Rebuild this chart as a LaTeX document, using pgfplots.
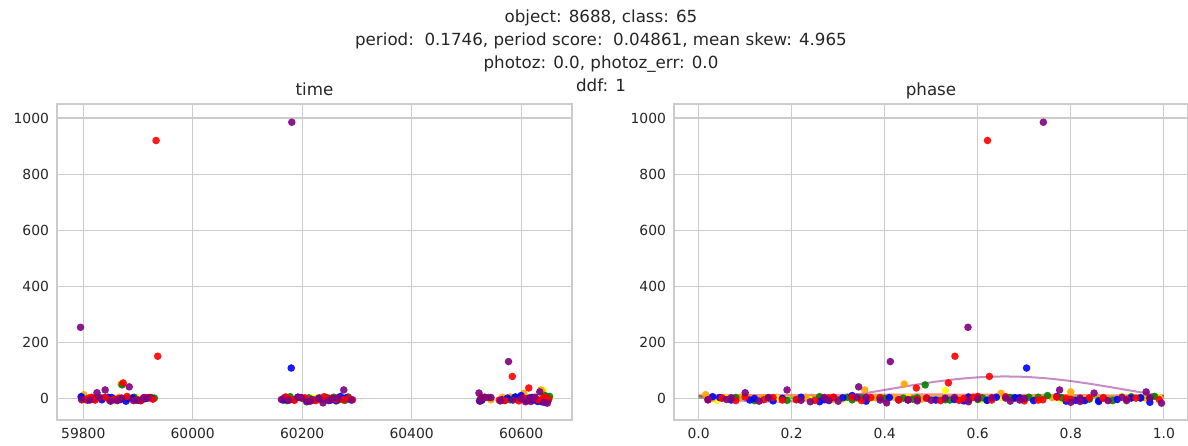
\documentclass[border=0pt]{standalone}
\usepackage{pgfplots}
\pgfplotsset{compat=1.18}
\usepackage{pgfplotstable}
\usepackage{fontspec}
\setmainfont{DejaVu Sans}

\definecolor{txt}{HTML}{262626}
\definecolor{gridc}{HTML}{CCCCCC}
\definecolor{mblue}{RGB}{0,0,255}
\definecolor{mgreen}{RGB}{0,128,0}
\definecolor{mred}{RGB}{255,0,0}
\definecolor{mpurple}{RGB}{128,0,128}
\definecolor{morange}{RGB}{255,165,0}
\definecolor{myellow}{RGB}{255,255,0}

% light curve per passband: time (MJD), phase, flux
\pgfplotstableread{
t ph f
59796 0.03 8
59808 0.51 -4
59818 0.12 2
59834 0.27 -3
59845 0.64 6
59852 0.41 5
59868 0.55 -2
59878 0.79 -8
59890 0.68 4
59905 0.83 -6
59915 0.18 2
59925 0.95 3
60165 0.07 -4
60168 0.29 5
60180 0.705 110
60192 0.22 6
60210 0.36 -8
60218 0.43 -3
60232 0.49 3
60251 0.62 -5
60262 0.57 -7
60270 0.77 9
60280 0.69 4
60288 0.90 -2
60524 0.16 -7
60528 0.81 -5
60531 0.31 4
60565 0.45 -3
60575 0.93 3
60590 0.58 7
60600 0.33 12
60612 0.72 -6
60620 0.045 5
60622 0.11 -4
60630 0.86 -9
60638 0.26 -10
60645 0.97 -12
}\tblue

\pgfplotstableread{
t ph f
59805 0.21 -3
59810 0.05 3
59815 0.37 5
59822 0.18 -4
59840 0.33 6
59848 0.56 -5
59856 0.47 -2
59865 0.79 2
59873 0.537 57
59880 0.60 9
59898 0.74 -3
59905 0.08 -6
59912 0.87 5
59920 0.28 4
59927 0.92 -1
59933 0.621 920
59936 0.551 152
60170 0.10 7
60178 0.45 -2
60186 0.25 -5
60196 0.59 5
60205 0.39 4
60215 0.73 -4
60225 0.52 -6
60240 0.66 8
60250 0.87 2
60262 0.80 -2
60275 0.02 -3
60285 0.94 3
60292 0.14 -3
60528 0.29 6
60535 0.16 5
60560 0.43 -4
60570 0.35 -6
60584 0.625 80
60596 0.70 -7
60605 0.49 3
60614 0.468 39
60625 0.84 4
60632 0.63 -4
60640 0.57 2
60645 0.77 6
60650 0.99 -2
}\tred

\pgfplotstableread{
t ph f
59795 0.579 255
59797 0.02 -3
59812 0.39 -4
59825 0.10 22
59830 0.55 5
59840 0.19 32
59850 0.67 -8
59862 0.28 -6
59870 0.82 3
59884 0.344 43
59892 0.92 -6
59900 0.50 -5
59910 0.07 4
59918 0.63 4
60162 0.06 -2
60175 0.22 -5
60181 0.741 985
60192 0.34 6
60198 0.15 5
60208 0.58 -10
60215 0.30 -8
60230 0.70 2
60238 0.404 -14
60248 0.88 -6
60255 0.53 3
60265 0.97 4
60276 0.776 32
60290 0.69 -4
60523 0.85 21
60525 0.13 -8
60533 0.36 6
60545 0.27 5
60562 0.47 -7
60577 0.412 133
60585 0.45 -4
60600 0.60 2
60608 0.24 -10
60615 0.66 3
60618 0.82 -9
60625 0.91 6
60634 0.962 25
60642 0.80 -12
60648 0.995 -15
}\tpurple

\pgfplotstableread{
t ph f
59798 0.08 5
59815 0.15 4
59820 0.21 -2
59838 0.35 4
59850 0.28 -4
59860 0.58 -3
59871 0.487 50
59882 0.44 3
59893 0.71 6
59902 0.62 -5
59910 0.84 -1
59922 0.78 5
59930 0.97 3
60172 0.12 -6
60178 0.26 8
60185 0.33 -3
60200 0.40 2
60212 0.47 4
60222 0.54 -4
60235 0.60 -2
60245 0.67 5
60258 0.73 6
60268 0.80 -2
60278 0.86 -5
60284 0.93 7
60526 0.05 3
60540 0.39 5
60570 0.19 -5
60580 0.53 -3
60588 0.32 6
60607 0.46 -1
60615 0.68 3
60620 0.95 5
60626 0.61 4
60635 0.89 -6
60644 0.75 12
60650 0.82 -2
60652 0.98 9
}\tgreen

\pgfplotstableread{
t ph f
59801 0.015 15
59815 0.09 6
59828 0.14 4
59848 0.29 -2
59858 0.34 2
59866 0.42 6
59869 0.442 53
59885 0.48 -1
59895 0.56 -3
59915 0.70 3
59925 0.63 5
60175 0.18 -1
60185 0.83 -2
60230 0.96 4
60242 0.76 5
60255 0.11 3
60265 0.88 -4
60530 0.03 2
60545 0.45 -3
60566 0.23 6
60580 0.59 7
60592 0.52 -2
60605 0.65 20
60610 0.38 4
60620 0.72 2
60636 0.357 32
60638 0.80 25
60646 0.93 8
60650 0.86 -4
}\torange

\pgfplotstableread{
t ph f
59799 0.04 -5
59810 0.12 2
59833 0.17 3
59855 0.24 -3
59876 0.31 -2
59898 0.39 4
59920 0.45 6
60168 0.58 -2
60207 0.61 -3
60218 0.70 3
60228 0.73 4
60245 0.83 -1
60258 0.86 -4
60527 0.25 -6
60538 0.06 4
60575 0.37 2
60585 0.19 -2
60598 0.65 5
60612 0.44 3
60628 0.78 -3
60635 0.57 -4
60640 0.53 30
60642 0.91 9
60648 0.96 2
60651 0.99 4
}\tyellow

\pgfplotsset{
  panel/.style={
    scale only axis, width=515bp, height=316bp, anchor=south west,
    ymin=-75, ymax=1050, ytick={0,200,400,600,800,1000},
    grid=major, major grid style={gridc, line width=1.1bp},
    axis line style={gridc, line width=1.4bp},
    major tick length=0pt,
    scaled x ticks=false, scaled y ticks=false,
    tick label style={font=\fontsize{13.9bp}{16bp}\selectfont, text=txt},
    /pgf/number format/assume math mode=true,
    /pgf/number format/set thousands separator={},
    xticklabel style={yshift=-5bp},
    yticklabel style={xshift=-4.5bp},
  },
  pt/.style={only marks, mark=*, mark size=3.8bp, color=#1,
    fill opacity=0.9, draw opacity=0},
  fit/.style={#1, line width=2bp, opacity=0.45},
}

\begin{document}
\begin{tikzpicture}
\begin{axis}[panel, at={(57bp,26bp)},
  xmin=59752, xmax=60693, xtick={59800,60000,60200,60400,60600}]
  \addplot[pt=myellow] table[x=t,y=f]{\tyellow};
  \addplot[pt=morange] table[x=t,y=f]{\torange};
  \addplot[pt=mgreen] table[x=t,y=f]{\tgreen};
  \addplot[pt=mblue] table[x=t,y=f]{\tblue};
  \addplot[pt=mred] table[x=t,y=f]{\tred};
  \addplot[pt=mpurple] table[x=t,y=f]{\tpurple};
\end{axis}

\begin{axis}[panel, at={(674bp,26bp)}, width=514bp,
  xmin=-0.053, xmax=1.052, xtick={0,0.2,0.4,0.6,0.8,1.0},
  xticklabel style={/pgf/number format/.cd, fixed, fixed zerofill, precision=1}]
  \addplot[pt=myellow] table[x=ph,y=f]{\tyellow};
  \addplot[pt=morange] table[x=ph,y=f]{\torange};
  \addplot[pt=mgreen] table[x=ph,y=f]{\tgreen};
  \addplot[pt=mblue] table[x=ph,y=f]{\tblue};
  \addplot[pt=mred] table[x=ph,y=f]{\tred};
  \addplot[pt=mpurple] table[x=ph,y=f]{\tpurple};
  % periodic model per passband
  \addplot[fit=mred] coordinates {(0,13) (0.5,16) (1,12)};
  \addplot[fit=morange] coordinates {(0,10) (1,10)};
  \addplot[fit=mgreen] coordinates {(0,6) (0.5,8) (1,7)};
  \addplot[fit=mblue] coordinates {(0,4) (1,5)};
  \addplot[fit=myellow] coordinates {(0,5) (1,6)};
  \addplot[fit=mpurple, smooth] coordinates {
    (0.00,10.9) (0.05,0.3) (0.10,-6.8) (0.15,-9.9) (0.20,-8.6) (0.25,-3.0)
    (0.30,6.3) (0.35,18.4) (0.40,32.2) (0.45,46.2) (0.50,59.1) (0.55,69.7)
    (0.60,76.8) (0.65,79.9) (0.70,78.6) (0.75,73.0) (0.80,63.7) (0.85,51.6)
    (0.90,37.8) (0.95,23.8) (1.00,10.9)};
\end{axis}

\begin{scope}[every node/.style={text=txt, font=\fontsize{16.7bp}{20bp}\selectfont, anchor=base}]
  \node at (601bp,423bp) {object: 8688, class: 65};
  \node at (601bp,400bp) {period:\ \ 0.1746, period score:\ \ 0.04861, mean skew: 4.965};
  \node at (601bp,377bp) {photoz: 0.0, photoz\_err: 0.0};
  \node at (601bp,354bp) {ddf: 1};
  \node at (314.5bp,350bp) {time};
  \node at (931bp,350bp) {phase};
\end{scope}

\pgfresetboundingbox
\useasboundingbox (0,0) rectangle (1188bp,446bp);
\end{tikzpicture}
\end{document}
